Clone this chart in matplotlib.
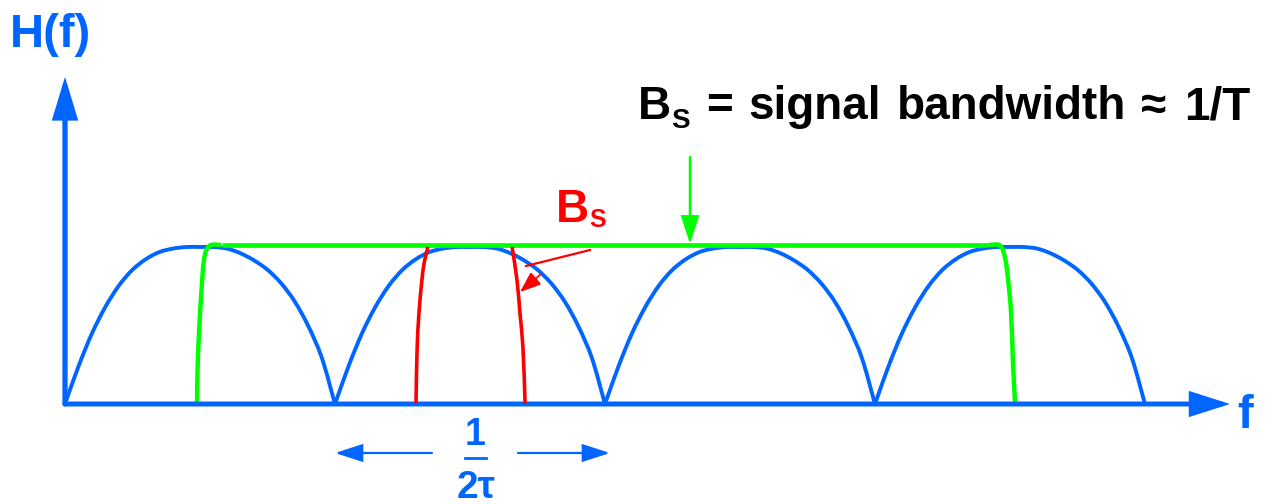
import matplotlib
matplotlib.use("Agg")
import matplotlib.pyplot as plt
from matplotlib.path import Path
from matplotlib.patches import PathPatch
import numpy as np

# ---------------- data (frequency in units of 1/(2*tau), H normalised) -------------
lobe_zeros = [0, 1, 2, 3]                      # start of each spectral lobe
lobe_u = [0, 0.05, 0.10, 0.15, 0.20, 0.25, 0.30, 0.35, 0.40, 0.45, 0.50,
          0.55, 0.60, 0.65, 0.70, 0.75, 0.80, 0.85, 0.90, 0.95, 1.0]
lobe_h = [0, 0.24, 0.45, 0.62, 0.755, 0.855, 0.923, 0.968, 0.99, 1.0, 1.0,
          1.0, 0.99, 0.96, 0.915, 0.855, 0.77, 0.655, 0.50, 0.30, 0]

green_left_f = [0.489, 0.491, 0.496, 0.507, 0.518, 0.537, 0.58]
green_left_h = [0, 0.22, 0.440, 0.760, 0.950, 1.010, 1.013]
green_right_f = [3.42, 3.463, 3.481, 3.493, 3.504, 3.511, 3.519]
green_right_h = [1.013, 1.010, 0.936, 0.790, 0.580, 0.261, 0]
green_top_h = 1.013

red_left_f = [1.300, 1.304, 1.311, 1.322, 1.330, 1.344]
red_left_h = [0, 0.344, 0.580, 0.790, 0.898, 1.0]
red_right_f = [1.656, 1.674, 1.685, 1.696, 1.704]
red_right_h = [1.0, 0.790, 0.580, 0.363, 0]

f_axis_end = 4.315
h_axis_end = 2.083

title_words = ["=", "signal", "bandwidth", "\u2248", "1/T"]
title_word_x = [706, 748, 897, 1141, 1184]   # pixel left edges

BLUE = "#0066ff"
GREEN = "#00ff00"
RED = "#ff0000"

FONT = "Liberation Sans"

W, Hpx = 1282, 504
fig = plt.figure(figsize=(W / 100, Hpx / 100), dpi=100)
ax = fig.add_axes([0, 0, 1, 1])
X0, Y0, SX, SY = 65.0, 404.0, 270.0, 157.0
ax.set_xlim(-X0 / SX, (W - X0) / SX)
ax.set_ylim((Y0 - Hpx) / SY, Y0 / SY)
ax.axis("off")


def P(x, y):
    """pixel (top-left origin) -> data"""
    return ((x - X0) / SX, (Y0 - y) / SY)


def smooth_path(xs, ys):
    """chord-length Catmull-Rom spline through the points, as cubic Bezier path"""
    pts = np.column_stack([xs, ys]).astype(float)
    scale = np.array([SX, SY])
    q = pts * scale                      # work in screen-proportional space
    n = len(q)
    d = np.linalg.norm(np.diff(q, axis=0), axis=1)
    m = np.zeros_like(q)
    for i in range(n):
        if i == 0:
            m[i] = (q[1] - q[0]) / d[0]
        elif i == n - 1:
            m[i] = (q[-1] - q[-2]) / d[-1]
        else:
            m[i] = (q[i + 1] - q[i - 1]) / (d[i - 1] + d[i])
    verts = [q[0]]
    codes = [Path.MOVETO]
    for i in range(n - 1):
        c1 = q[i] + m[i] * d[i] / 3.0
        c2 = q[i + 1] - m[i + 1] * d[i] / 3.0
        verts += [c1, c2, q[i + 1]]
        codes += [Path.CURVE4] * 3
    return Path(np.array(verts) / scale, codes)


def curve(xs, ys, color, lw, z):
    ax.add_patch(PathPatch(smooth_path(xs, ys), facecolor="none", edgecolor=color,
                           lw=lw, zorder=z, capstyle="butt", joinstyle="round"))


def arrow(x1, y1, x2, y2, color, lw, hl, hw):
    ax.annotate("", xy=(x2, y2), xytext=(x1, y1),
                arrowprops=dict(arrowstyle=f"-|>,head_length={hl},head_width={hw}",
                                color=color, lw=lw, shrinkA=0, shrinkB=0,
                                mutation_scale=1, joinstyle="miter"))


# lobes
for z in lobe_zeros:
    curve(np.array(lobe_u) + z, lobe_h, BLUE, 2.8, 2)

# green filter
curve(green_left_f, green_left_h, GREEN, 3.2, 3)
curve(green_right_f, green_right_h, GREEN, 3.2, 3)
ax.plot([green_left_f[-1], green_right_f[0]], [green_top_h, green_top_h],
        color=GREEN, lw=3.4, zorder=3, solid_capstyle="butt")
# red filter
curve(red_left_f, red_left_h, RED, 2.6, 4)
curve(red_right_f, red_right_h, RED, 2.6, 4)

# axes
arrow(0, 0, f_axis_end, 0, BLUE, 3.6, 22, 7)
arrow(0, 0, 0, h_axis_end, BLUE, 3.8, 23, 7)

# green pointer
arrow(*P(690, 157), *P(690, 244), GREEN, 1.8, 17, 5.5)
# red pointer
ax.plot(*zip(P(590, 250), P(526, 266)), color=RED, lw=1.6)
arrow(*P(541, 274), *P(520, 292), RED, 1.2, 13, 5)

# 1/(2 tau) arrows
arrow(*P(432, 453), *P(335, 453), BLUE, 1.6, 17, 5.5)
arrow(*P(518, 453), *P(610, 453), BLUE, 1.6, 17, 5.5)
ax.plot(*zip(P(465, 458), P(486, 458)), color=BLUE, lw=2)

# ---------------- texts ----------------
def text(x, y, s, color, size, ha="left"):
    return ax.text(*P(x, y), s, color=color, fontsize=size, fontweight="bold",
                   family=[FONT, "DejaVu Sans"], ha=ha, va="baseline")


text(10, 47, "H(f)", BLUE, 34)
text(1237, 428, "f", BLUE, 34)
text(475, 445, "1", BLUE, 27, ha="center")
text(476, 498, "2\u03c4", BLUE, 28, ha="center")

text(556, 222, "B", RED, 33)
text(589, 227, "S", RED, 18)

text(638, 119, "B", "black", 33)
text(671, 128, "S", "black", 20)
for wx, ws in zip(title_word_x, title_words):
    text(wx, 119, ws, "black", 33)
fig.savefig("out.png", dpi=100)
